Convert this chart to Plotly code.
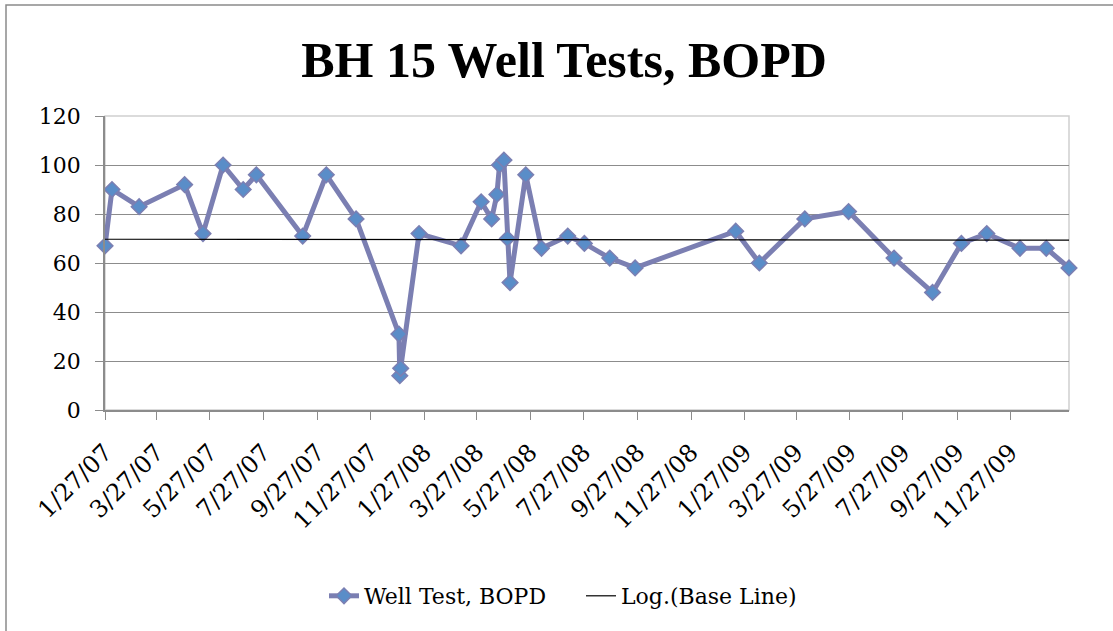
import plotly.graph_objects as go

# ---- data ----
test_dates = [
    "2007-01-27", "2007-02-04", "2007-03-07", "2007-04-28", "2007-05-19",
    "2007-06-11", "2007-07-04", "2007-07-19", "2007-09-10", "2007-10-07",
    "2007-11-10", "2007-12-29", "2007-12-30", "2007-12-31", "2008-01-21",
    "2008-03-09", "2008-04-01", "2008-04-13", "2008-04-19", "2008-04-22",
    "2008-04-27", "2008-05-01", "2008-05-04", "2008-05-22", "2008-06-09",
    "2008-07-09", "2008-07-28", "2008-08-26", "2008-09-24", "2009-01-17",
    "2009-02-13", "2009-04-06", "2009-05-26", "2009-07-17", "2009-08-30",
    "2009-10-02", "2009-10-31", "2009-12-08", "2010-01-07", "2010-02-02",
]
bopd = [
    67, 90, 83, 92, 72,
    100, 90, 96, 71, 96,
    78, 31, 14, 17, 72,
    67, 85, 78, 88, 100,
    102, 70, 52, 96, 66,
    71, 68, 62, 58, 73,
    60, 78, 81, 62, 48,
    68, 72, 66, 66, 58,
]
base_line_dates = ["2007-01-27", "2010-02-02"]
base_line_values = [69.7, 69.3]

x_tick_dates = [
    "2007-01-27", "2007-03-27", "2007-05-27", "2007-07-27", "2007-09-27",
    "2007-11-27", "2008-01-27", "2008-03-27", "2008-05-27", "2008-07-27",
    "2008-09-27", "2008-11-27", "2009-01-27", "2009-03-27", "2009-05-27",
    "2009-07-27", "2009-09-27", "2009-11-27",
]
y_ticks = [0, 20, 40, 60, 80, 100, 120]

title_text = "BH 15 Well Tests, BOPD"
series_name = "Well Test, BOPD"
trend_name = "Log.(Base Line)"

# ---- styling ----
LINE_COLOR = "#7B7FB2"
MARKER_FILL = "#5A8DC8"
GRID = "#8C8C8C"
FONT = "DejaVu Serif"

W, H = 1113, 631
L, T, R, B = 105, 116, 44, 221
PW, PH = W - L - R, H - T - B

fig = go.Figure()

fig.add_trace(go.Scatter(
    x=test_dates, y=bopd, name=series_name, mode="lines+markers",
    line=dict(color=LINE_COLOR, width=5),
    marker=dict(symbol="diamond", size=12, color=MARKER_FILL,
                line=dict(color=LINE_COLOR, width=1.5)),
    cliponaxis=False,
))

fig.add_trace(go.Scatter(
    x=base_line_dates, y=base_line_values, name=trend_name, mode="lines",
    line=dict(color="#000000", width=1.2),
))

fig.update_layout(
    width=W, height=H,
    paper_bgcolor="white", plot_bgcolor="white",
    margin=dict(l=L, r=R, t=T, b=B, autoexpand=False),
    font=dict(family=FONT, size=22, color="#000000"),
    title=dict(text="<b>" + title_text + "</b>", x=(564 - L) / PW,
               xanchor="center", xref="paper",
               y=1 - 59 / H, yanchor="middle", yref="container",
               font=dict(family="Liberation Serif", size=50, color="#000000")),
    showlegend=True,
    legend=dict(orientation="h", x=(324 - L) / PW, xanchor="left",
                y=(410 - 596) / PH, yanchor="middle",
                font=dict(family=FONT, size=22),
                bgcolor="rgba(0,0,0,0)", entrywidth=212, entrywidthmode="pixels",
                tracegroupgap=0),
)

fig.update_xaxes(
    type="date", automargin=False,
    range=[test_dates[0], test_dates[-1]],
    tickvals=x_tick_dates, tickformat="%-m/%d/%y",
    tickangle=-45, showgrid=False,
    showline=True, linecolor=GRID, linewidth=1.5, mirror=False,
    ticks="outside", ticklen=8, tickcolor=GRID, tickwidth=1.2,
    tickfont=dict(family=FONT, size=24), zeroline=False,
    ticklabelstandoff=9,
)
fig.update_yaxes(
    range=[0, 120], tickvals=y_ticks, automargin=False,
    showgrid=True, gridcolor=GRID, gridwidth=1.2,
    showline=True, linecolor=GRID, linewidth=1.5,
    ticks="outside", ticklen=8, tickcolor=GRID, tickwidth=1.2,
    tickfont=dict(family=FONT, size=22), zeroline=False,
    ticklabelstandoff=10,
)

# plot area frame (light) and the outer chart border
fig.add_shape(type="rect", xref="paper", yref="paper", x0=0, x1=1, y0=0, y1=1,
              line=dict(color="#D0D0D0", width=1.5), layer="below")
fig.add_shape(type="rect", xref="paper", yref="paper",
              x0=(6 - L) / PW, x1=(1125 - L) / PW,
              y0=(410 - 640) / PH, y1=(410 - 5) / PH,
              line=dict(color="#8A8A8A", width=1.5), layer="below")

# remove the default page margin so the figure sits at the window's corner
fig.write_html("out.html", config={"displayModeBar": False},
               post_script="document.body.style.margin='0';")
